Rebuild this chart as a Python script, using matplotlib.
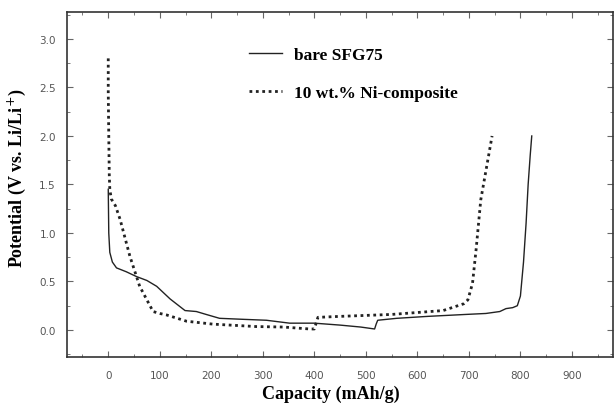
import matplotlib
matplotlib.use("Agg")
import matplotlib.pyplot as plt
from matplotlib.ticker import MultipleLocator

# bare SFG75 (solid)
bare_cap = [0, 1, 3, 8, 16, 35, 55, 75, 94, 120, 149, 171, 190, 216, 260, 307, 352, 400, 450, 490, 517,
            520, 523, 560, 620, 694, 733, 760, 772, 785, 794, 800, 806, 811, 815, 819, 822]
bare_pot = [1.45, 1.0, 0.8, 0.7, 0.64, 0.6, 0.55, 0.51, 0.45, 0.32, 0.2, 0.19, 0.16, 0.12, 0.11, 0.10, 0.07, 0.07, 0.05, 0.03, 0.01,
            0.06, 0.10, 0.12, 0.14, 0.16, 0.17, 0.19, 0.22, 0.23, 0.25, 0.35, 0.7, 1.1, 1.5, 1.8, 2.0]

# 10 wt.% Ni-composite (dotted)
ni_cap = [0, 0, 1, 2, 3, 6, 14, 23, 42, 61, 87, 100, 113, 152, 203, 287, 340, 391, 400,
          407, 450, 500, 550, 600, 650, 690, 698, 707, 714, 723, 735, 745]
ni_pot = [2.8, 2.45, 2.0, 1.6, 1.45, 1.35, 1.28, 1.14, 0.76, 0.45, 0.19, 0.17, 0.155, 0.09, 0.06, 0.035, 0.03, 0.01, 0.01,
          0.13, 0.14, 0.15, 0.16, 0.18, 0.20, 0.27, 0.31, 0.48, 0.83, 1.34, 1.7, 2.0]

xticks = [0, 100, 200, 300, 400, 500, 600, 700, 800, 900]
yticks = [0.0, 0.5, 1.0, 1.5, 2.0, 2.5, 3.0]

fig = plt.figure(figsize=(6.15, 4.14), dpi=100)
ax = fig.add_axes([0.109, 0.135, 0.888, 0.834])

ax.plot(bare_cap, bare_pot, color='#222222', lw=1.0, label='bare SFG75')
ax.plot(ni_cap, ni_pot, color='#222222', lw=2.0, linestyle=(0, (1.0, 1.3)),
        label='10 wt.% Ni-composite')

ax.set_xlim(-80, 980)
ax.set_ylim(-0.28, 3.28)
ax.set_xticks(xticks)
ax.set_yticks(yticks)
ax.set_xticklabels([str(v) for v in xticks])
ax.set_yticklabels(['%.1f' % v for v in yticks])
ax.xaxis.set_minor_locator(MultipleLocator(50))
ax.yaxis.set_minor_locator(MultipleLocator(0.25))
ax.tick_params(which='both', direction='in', top=True, right=True,
               labelsize=7.5, labelcolor='#555555', color='#666666')
ax.tick_params(which='major', length=4)
ax.tick_params(which='minor', length=2)
ax.tick_params(axis='x', pad=9)
ax.tick_params(axis='y', pad=8)
for s in ax.spines.values():
    s.set_linewidth(1.2)
    s.set_color('#333333')

serif = {'family': 'Liberation Serif', 'weight': 'bold', 'size': 13}
ax.set_xlabel('Capacity (mAh/g)', fontdict=serif)
ax.set_ylabel('Potential (V vs. Li/Li$^{+}$)', fontdict=serif)
ax.xaxis.set_label_coords(0.483, -0.08)
ax.yaxis.set_label_coords(-0.071, 0.52)

leg = ax.legend(loc='upper left', bbox_to_anchor=(0.305, 0.945), frameon=False,
                prop={'family': 'Liberation Serif', 'weight': 'bold', 'size': 12.5},
                handlelength=1.9, handletextpad=0.7, labelspacing=1.3)

fig.savefig('out.png', dpi=100)
